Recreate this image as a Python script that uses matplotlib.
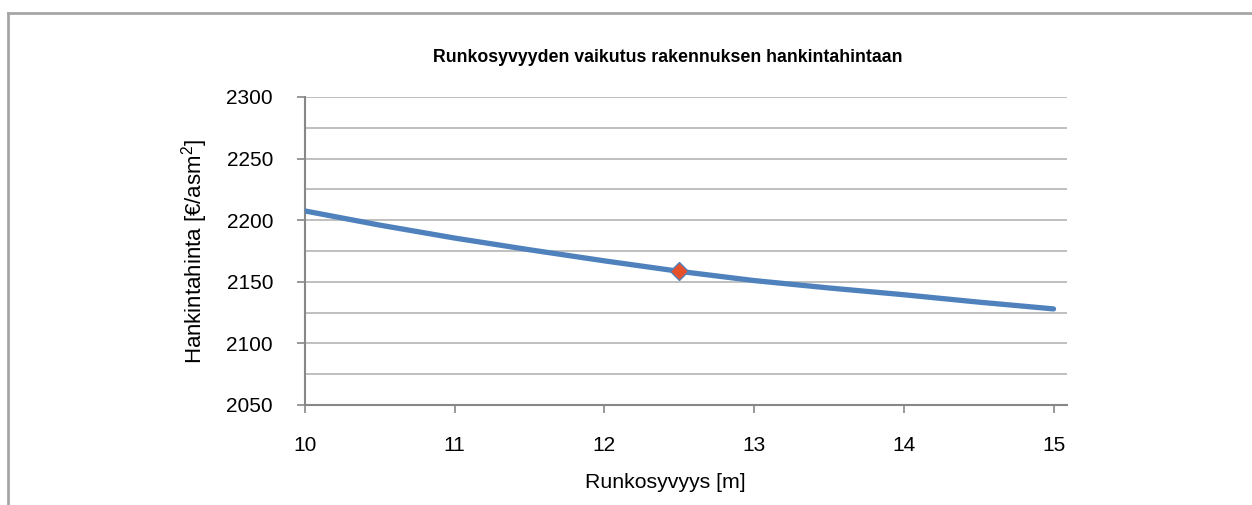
import numpy as np
import matplotlib
matplotlib.use("Agg")
import matplotlib.pyplot as plt
from matplotlib.lines import Line2D
from matplotlib.ticker import MultipleLocator

# --- data ---
depth = [10, 10.5, 11, 11.5, 12, 12.5, 13, 13.5, 14, 14.5, 15]           # m
price = [2207.5, 2196, 2185.5, 2176, 2167, 2158.5, 2151, 2145, 2139.5, 2133.5, 2128]  # €/asm2
chosen_depth = [12.5]
chosen_price = [2158.5]

title = "Runkosyvyyden vaikutus rakennuksen hankintahintaan"
xlabel = "Runkosyvyys [m]"
ylabel = r"Hankintahinta [€/asm$^2$]"

plt.rcParams['font.family'] = ['Liberation Sans', 'DejaVu Sans']
plt.rcParams['mathtext.fontset'] = 'custom'
plt.rcParams['mathtext.rm'] = 'Liberation Sans'
plt.rcParams['mathtext.it'] = 'Liberation Sans'
plt.rcParams['mathtext.default'] = 'regular'

W, H = 1252, 505
fig = plt.figure(figsize=(W / 100, H / 100), dpi=100)
ax = fig.add_axes([305 / W, 1 - 405 / H, (1067 - 305) / W, (405 - 97) / H])

# outer chart frame (top and left edge only visible)
frame_col = "#a6a6a6"
fig.add_artist(Line2D([8 / W, 1], [1 - 13 / H, 1 - 13 / H], transform=fig.transFigure,
                      color=frame_col, lw=2))
fig.add_artist(Line2D([8 / W, 8 / W], [0, 1 - 13 / H], transform=fig.transFigure,
                      color=frame_col, lw=2))

ax.plot(depth, price, color="#4f81bd", lw=3.8, solid_capstyle="round", zorder=3)
ax.plot(chosen_depth, chosen_price, marker="D", ms=9, color="#e5512a",
        mec="#4f81bd", mew=1.0, ls="none", zorder=4)

ax.set_xlim(10, 15.09)
ax.set_ylim(2050, 2300)
ax.xaxis.set_major_locator(MultipleLocator(1))
ax.yaxis.set_major_locator(MultipleLocator(50))
ax.yaxis.set_minor_locator(MultipleLocator(25))
ax.grid(axis="y", which="both", color="#bfbfbf", lw=1.4, zorder=0)
ax.set_axisbelow(True)

for s in ("top", "right"):
    ax.spines[s].set_visible(False)
for s in ("left", "bottom"):
    ax.spines[s].set_color("#878787")
    ax.spines[s].set_linewidth(1.5)

ax.tick_params(axis="y", which="major", direction="out", length=6, width=1.2,
               color="#878787", pad=17, labelsize=15)
ax.tick_params(axis="y", which="minor", length=0)
ax.tick_params(axis="x", direction="out", length=6, width=1.2,
               color="#878787", pad=16, labelsize=15)

ax.set_xlabel(xlabel, fontsize=15.3)
ax.xaxis.set_label_coords((665 - 305) / (1067 - 305), -(483 - 405) / (405 - 97))
ax.xaxis.label.set_va("center")
ax.set_ylabel(ylabel, fontsize=16)
ax.yaxis.set_label_coords(-(305 - 195) / (1067 - 305), 0.5)
ax.yaxis.label.set_va("center")

fig.text(668 / W, 1 - 57 / H, title, ha="center", va="center",
         fontsize=12.8, fontweight="bold")

fig.savefig("out.png", dpi=100)
